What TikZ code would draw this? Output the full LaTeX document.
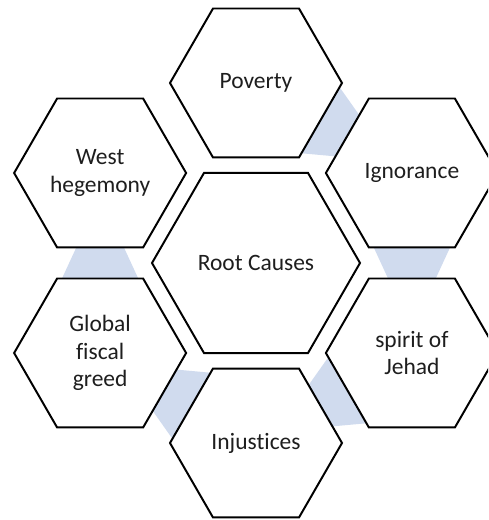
\documentclass[tikz,border=0pt]{standalone}
\usepackage{fontspec}
\setmainfont{Carlito}[Ligatures=NoCommon]
\usetikzlibrary{shapes.geometric,calc}
\definecolor{linkblue}{RGB}{208,219,238}
\definecolor{textgray}{RGB}{30,30,30}

\begin{document}
\begin{tikzpicture}[
    hexa/.style={regular polygon,regular polygon sides=6,draw=black,fill=white,
      line width=1.4pt,inner sep=0pt,minimum size=4.3cm,align=center,
      text=textgray,font=\fontsize{16.7}{19.5}\selectfont},
    root node/.style={hexa,minimum size=5.2cm},
    link/.style={fill=linkblue}]

    \useasboundingbox (0,0) rectangle (12.2,13);
    \clip (0,0) rectangle (12.2,13);

    \coordinate (c) at (6.4,6.425);

    % connectors behind the hexagons
    \foreach \a/\b/\ang in {pov/ign/90, ign/jeh/30, jeh/inj/-30, inj/glo/-90, glo/wes/-150} {
      \coordinate (\a) at ($(c)+(\ang:4.5)$);
      \coordinate (\b) at ($(c)+(\ang-60:4.5)$);
      \fill[link] ($(\a)!1.987cm!31.18:(\b)$) -- ($(\a)!1.987cm!-31.18:(\b)$)
        -- ($(\a)!2.848cm!-10.54:(\b)$) -- ($(\a)!2.848cm!10.54:(\b)$) -- cycle;
    }

    \node[root node] (root) at (c) {Root Causes};
    \node[hexa] (pov) at ($(c)+(90:4.5)$) {Poverty};
    \node[hexa] (ign) at ($(c)+(30:4.5)$) {Ignorance};
    \node[hexa] (jeh) at ($(c)+(-30:4.5)$) {spirit of\\Jehad};
    \node[hexa] (inj) at ($(c)+(-90:4.5)$) {Injustices};
    \node[hexa] (glo) at ($(c)+(-150:4.5)$) {Global\\fiscal\\greed};
    \node[hexa] (wes) at ($(c)+(150:4.5)$) {West\\hegemony};
\end{tikzpicture}
\end{document}
